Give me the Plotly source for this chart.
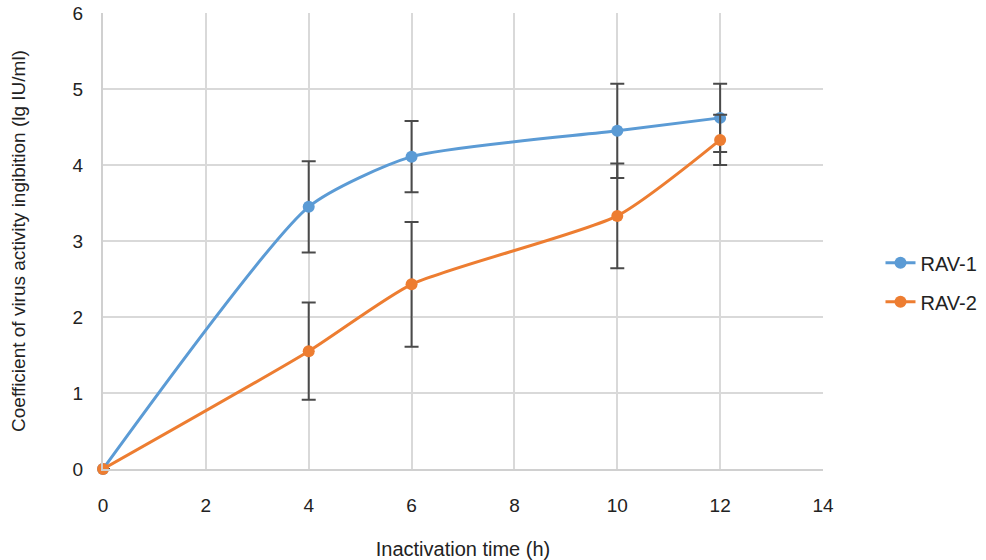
import plotly.graph_objects as go

x_vals = [0, 4, 6, 10, 12]
rav1 = [0, 3.45, 4.11, 4.45, 4.62]
rav1_err = [0, 0.60, 0.47, 0.62, 0.45]
rav2 = [0, 1.55, 2.43, 3.33, 4.33]
rav2_err = [0, 0.64, 0.82, 0.69, 0.33]
x_ticks = [0, 2, 4, 6, 8, 10, 12, 14]
y_ticks = [0, 1, 2, 3, 4, 5, 6]

err_color = "#4a4a4a"
fig = go.Figure()
for name, ys, es, col in [("RAV-1", rav1, rav1_err, "#5b9bd5"), ("RAV-2", rav2, rav2_err, "#ed7d31")]:
    fig.add_trace(go.Scatter(
        x=x_vals, y=ys, name=name, legendgroup=name, mode="lines+markers",
        line=dict(color=col, width=3, shape="spline", smoothing=0.6),
        marker=dict(color=col, size=12), cliponaxis=False,
        error_y=dict(type="data", array=es, visible=True, color=err_color, thickness=2, width=7),
    ))

fig.update_layout(
    width=986, height=560,
    margin=dict(l=103, r=163, t=13, b=91, autoexpand=False),
    paper_bgcolor="white", plot_bgcolor="white",
    font=dict(family="Liberation Sans, Arial, sans-serif", size=20, color="#222222"),
    xaxis=dict(range=[0, 14], tickvals=x_ticks, showgrid=True, gridcolor="#d9d9d9", gridwidth=2,
               zeroline=False, showline=True, linecolor="#d0d0d0", linewidth=2, automargin=False,
               ticks="outside", ticklen=18, tickcolor="rgba(0,0,0,0)",
               tickfont=dict(size=19),
               title=dict(text="Inactivation time (h)", standoff=28, font=dict(size=20))),
    yaxis=dict(range=[0, 6], tickvals=y_ticks, showgrid=True, gridcolor="#d9d9d9", gridwidth=2,
               zeroline=False, showline=True, linecolor="#d0d0d0", linewidth=2, automargin=False,
               ticks="outside", ticklen=14, tickcolor="rgba(0,0,0,0)",
               tickfont=dict(size=19),
               title=dict(text="Coefficient of virus activity ingibition (lg IU/ml)", standoff=42, font=dict(size=19))),
    legend=dict(xref="container", yref="container", x=0.893, y=0.496, xanchor="left", yanchor="middle",
                font=dict(size=20), traceorder="grouped", tracegroupgap=10),
    showlegend=True,
)
fig.write_html("out.html", config={"displayModeBar": False},
               post_script="document.body.style.margin='0';")
